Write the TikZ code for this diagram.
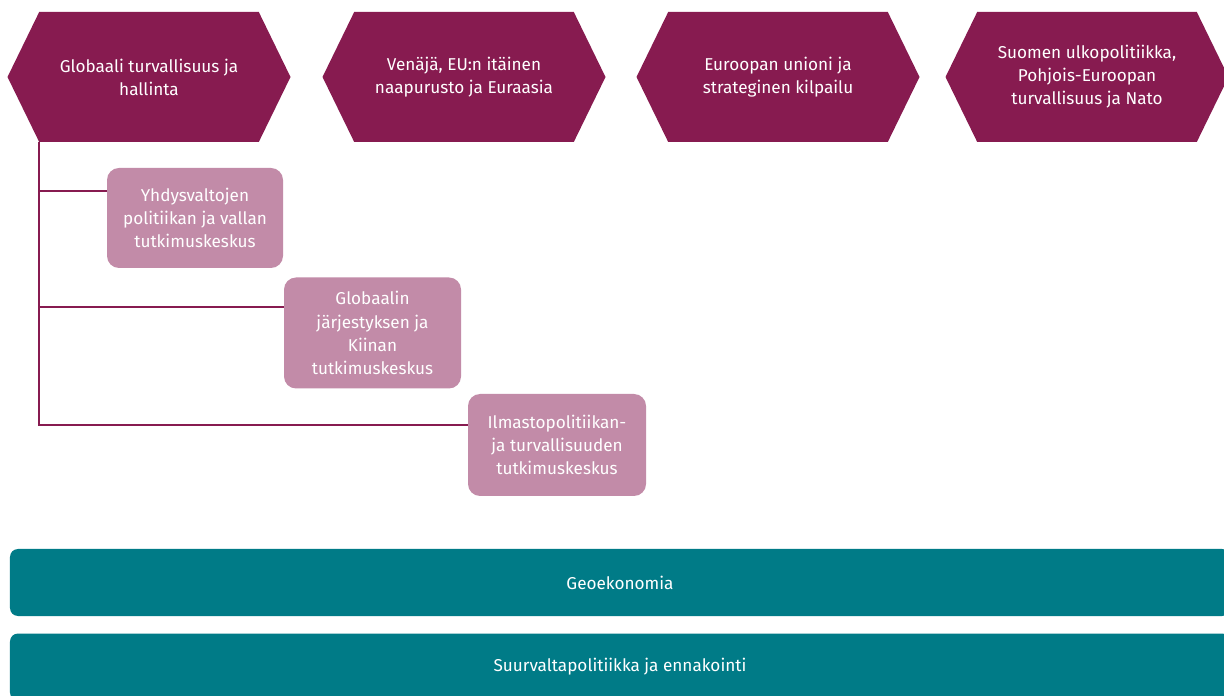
\documentclass[tikz,border=0pt]{standalone}
\usepackage{fontspec}
\setmainfont{Fira Sans}
\usetikzlibrary{shapes.symbols}
\definecolor{hexred}{RGB}{135,27,80}
\definecolor{subpink}{RGB}{194,139,168}
\definecolor{barteal}{RGB}{0,123,135}
\tikzset{
	hexnode/.style={shape=signal, signal to=west and east, signal pointer angle=128, fill=hexred, text=white, minimum width=7.075cm, minimum height=3.25cm, inner sep=0pt, align=center, font=\fontsize{12.2}{16.4}\selectfont},
	subnode/.style={shape=rectangle, rounded corners=0.3cm, fill=subpink, text=white, inner sep=0pt, align=center, font=\fontsize{12.2}{16.4}\selectfont},
	barnode/.style={shape=rectangle, rounded corners=0.2cm, fill=barteal, text=white, inner sep=0pt, font=\fontsize{12.2}{16.4}\selectfont},
	wire/.style={draw=hexred, line width=1.6pt}
}
\begin{document}
\begin{tikzpicture}
	\useasboundingbox (0, 0) rectangle (30.6, 17.375);
	% Paths, nodes and wires:
	\node[hexnode] (globaali) at (3.725, 15.45){Globaali turvallisuus ja\\hallinta};
	\node[hexnode] (venaja) at (11.6, 15.45){Venäjä, EU:n itäinen\\naapurusto ja Euraasia};
	\node[hexnode] (eurooppa) at (19.45, 15.45){Euroopan unioni ja\\strateginen kilpailu};
	\node[hexnode] (suomi) at (27.175, 15.45){Suomen ulkopolitiikka,\\Pohjois-Euroopan\\turvallisuus ja Nato};
	\node[subnode, minimum width=4.4cm, minimum height=2.5cm] (yhdysvallat) at (4.875, 11.925){Yhdysvaltojen\\politiikan ja vallan\\tutkimuskeskus};
	\node[subnode, minimum width=4.425cm, minimum height=2.775cm] (kiina) at (9.3125, 9.05){Globaalin\\järjestyksen ja\\Kiinan\\tutkimuskeskus};
	\node[subnode, minimum width=4.45cm, minimum height=2.55cm] (ilmasto) at (13.925, 6.25){Ilmastopolitiikan-\\ja turvallisuuden\\tutkimuskeskus};
	\draw[wire] (globaali.south west) |- ([yshift=0.675cm]yhdysvallat.west);
	\draw[wire] (globaali.south west) |- ([yshift=0.65cm]kiina.west);
	\draw[wire] (globaali.south west) |- ([yshift=0.5cm]ilmasto.west);
	\node[barnode, minimum width=30.5cm, minimum height=1.675cm] (geoekonomia) at (15.5, 2.8125){Geoekonomia};
	\node[barnode, minimum width=30.5cm, minimum height=1.675cm] (suurvalta) at (15.5, 0.7){Suurvaltapolitiikka ja ennakointi};
\end{tikzpicture}
\end{document}
